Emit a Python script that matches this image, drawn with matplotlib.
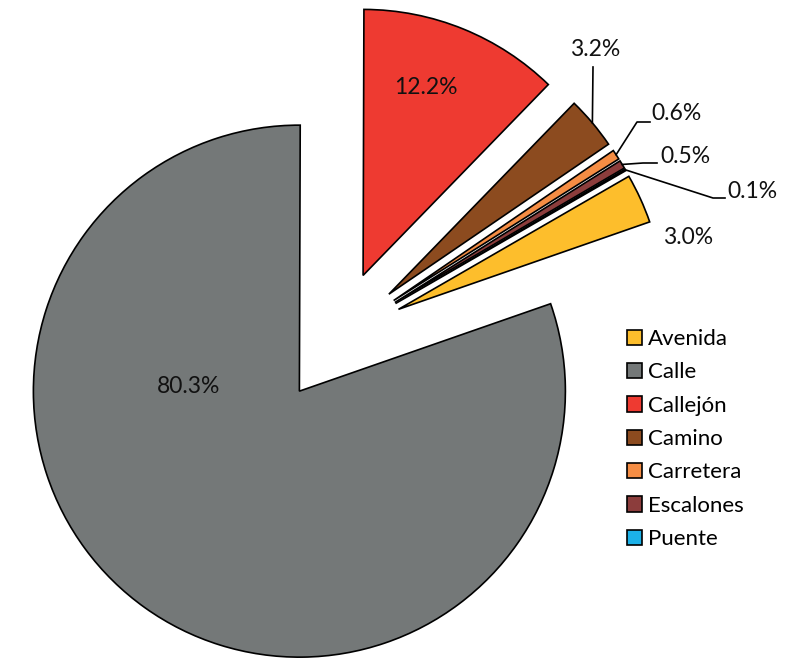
import matplotlib.pyplot as plt
import numpy as np

labels = ['Avenida', 'Calle', 'Callejón', 'Camino', 'Carretera', 'Escalones', 'Puente']
shares = [3.0, 80.3, 12.2, 3.2, 0.6, 0.5, 0.1]
colors = ['#FDBE2C', '#747878', '#EE3A31', '#8C4B1F', '#F58D44', '#8C3D3C', '#1CB1E8']

plt.rcParams['font.family'] = ['Lato', 'DejaVu Sans']

W, H = 794, 660
R = 266.0          # pixels per pie radius
cx, cy = 338, 337  # pie centre in pixels (from top-left)


def px(x, y):
    # pixel position (top-left origin) -> data coords
    return ((x - cx) / R, (cy - y) / R)


fig = plt.figure(figsize=(W / 100, H / 100), dpi=100)
ax = fig.add_axes([0, 0, 1, 1])
wedges, _ = ax.pie(shares, colors=colors, startangle=30, counterclock=False,
                   explode=[0.25] * len(shares), radius=1,
                   wedgeprops=dict(edgecolor='black', linewidth=1.2))
ax.set_xlim(-cx / R, (W - cx) / R)
ax.set_ylim(-(H - cy) / R, cy / R)
ax.set_aspect('equal')
ax.axis('off')

# label text positions (pixels) and leader elbows
label_pos = {
    'Avenida': (688, 237),
    'Calle': (189, 386),
    'Callejón': (426, 88),
    'Camino': (595, 49),
    'Carretera': (677, 113),
    'Escalones': (685, 156),
    'Puente': (752, 191),
}
leaders = {
    'Camino': [(593, 67)],
    'Carretera': [(637, 122), (650, 122)],
    'Escalones': [(643, 163), (657, 163)],
    'Puente': [(713, 198), (725, 198)],
}

for w, lab, v in zip(wedges, labels, shares):
    tx, ty = px(*label_pos[lab])
    ax.text(tx, ty, f'{v:.1f}%', ha='center', va='center', fontsize=16.5, color='#111111')
    if lab in leaders:
        mid = np.deg2rad((w.theta1 + w.theta2) / 2)
        sx, sy = w.center[0] + np.cos(mid), w.center[1] + np.sin(mid)
        pts = [(sx, sy)] + [px(*p) for p in leaders[lab]]
        ax.plot([p[0] for p in pts], [p[1] for p in pts], color='black', linewidth=1.2)

leg = ax.legend(wedges, labels, loc='upper left', bbox_to_anchor=(627 / W, 1 - 329 / H),
                bbox_transform=fig.transFigure, frameon=False, fontsize=16,
                handlelength=0.68, handleheight=0.68, handletextpad=0.25,
                labelspacing=0.6, borderpad=0, borderaxespad=0)

plt.savefig('out.png', dpi=100, facecolor='white')
plt.close()
print('Saved: out.png')
